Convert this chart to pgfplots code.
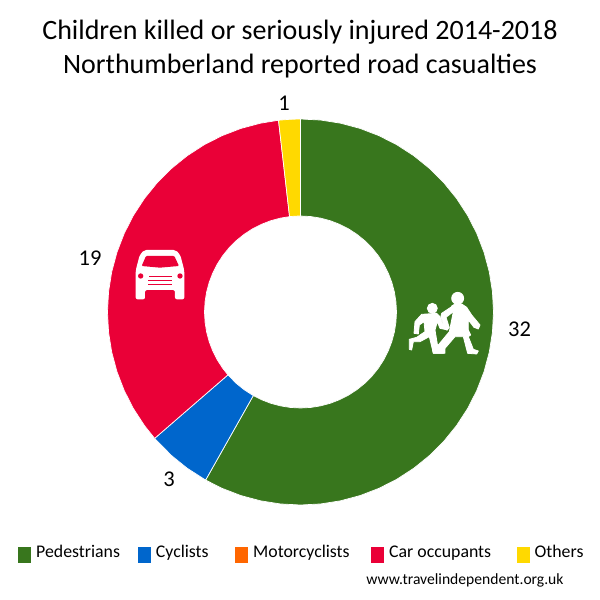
\documentclass[border=0pt]{standalone}
\usepackage{pgfplots}
\pgfplotsset{compat=1.18}
\usepackage{fontspec}
\setmainfont{Carlito}
\definecolor{cPed}{HTML}{38761D}
\definecolor{cCyc}{HTML}{0066CC}
\definecolor{cMot}{HTML}{FF6600}
\definecolor{cCar}{HTML}{EA0037}
\definecolor{cOth}{HTML}{FFD900}
\begin{document}
\begin{tikzpicture}[x=1pt,y=1pt]
\path[use as bounding box] (0,0) rectangle (600pt,600pt);
\begin{axis}[
  at={(0,0)},anchor=south west,
  scale only axis,width=600pt,height=600pt,
  xmin=-300.5,xmax=299.5,ymin=-288,ymax=312,
  hide axis,clip=false,
  legend columns=5,
  area legend,
  legend image code/.code={\fill[#1,draw=none] (0pt,-5pt) rectangle (13pt,11pt);},
  legend style={at={(axis cs:-282.5,-246)},anchor=base west,draw=none,fill=none,inner sep=0pt,
    font=\fontsize{17.8}{17.8}\selectfont,
    /tikz/column 1/.style={column sep=5pt},
    /tikz/column 3/.style={column sep=5pt},
    /tikz/column 5/.style={column sep=5pt},
    /tikz/column 7/.style={column sep=5pt},
    /tikz/column 9/.style={column sep=5pt},
    /tikz/column 2/.style={column sep=18pt},
    /tikz/column 4/.style={column sep=26.5pt},
    /tikz/column 6/.style={column sep=21.5pt},
    /tikz/column 8/.style={column sep=25.5pt},
    nodes={inner sep=0pt,anchor=base west},
    cells={anchor=west}},
]
% Values 32, 3, 0, 19, 1 of 55: wedges as (angle, radius)
\addplot[data cs=polar,fill=cPed,draw=white,line width=0.7pt] coordinates {
 (90,193)(84,193)(78,193)(72,193)(66,193)(60,193)(54,193)(48,193)(42,193)(36,193)(30,193)(24,193)(18,193)(12,193)(6,193)(0,193)(-6,193)(-12,193)(-18,193)(-24,193)(-30,193)(-36,193)(-42,193)(-48,193)(-54,193)(-60,193)(-66,193)(-72,193)(-78,193)(-84,193)(-90,193)(-96,193)(-102,193)(-108,193)(-114,193)(-119.45,193)
 (-119.45,96)(-114,96)(-108,96)(-102,96)(-96,96)(-90,96)(-84,96)(-78,96)(-72,96)(-66,96)(-60,96)(-54,96)(-48,96)(-42,96)(-36,96)(-30,96)(-24,96)(-18,96)(-12,96)(-6,96)(0,96)(6,96)(12,96)(18,96)(24,96)(30,96)(36,96)(42,96)(48,96)(54,96)(60,96)(66,96)(72,96)(78,96)(84,96)(90,96)(90,193)};
\addlegendentry{Pedestrians}
\addplot[data cs=polar,fill=cCyc,draw=white,line width=0.7pt] coordinates {
 (-119.45,193)(-126,193)(-132,193)(-139.09,193)(-139.09,96)(-132,96)(-126,96)(-119.45,96)(-119.45,193)};
\addlegendentry{Cyclists}
\addplot[data cs=polar,fill=cMot,draw=none] coordinates {(-139.09,96)(-139.09,193)};
\addlegendentry{Motorcyclists}
\addplot[data cs=polar,fill=cCar,draw=white,line width=0.7pt] coordinates {
 (-139.09,193)(-144,193)(-150,193)(-156,193)(-162,193)(-168,193)(-174,193)(-180,193)(-186,193)(-192,193)(-198,193)(-204,193)(-210,193)(-216,193)(-222,193)(-228,193)(-234,193)(-240,193)(-246,193)(-252,193)(-258,193)(-263.45,193)
 (-263.45,96)(-258,96)(-252,96)(-246,96)(-240,96)(-234,96)(-228,96)(-222,96)(-216,96)(-210,96)(-204,96)(-198,96)(-192,96)(-186,96)(-180,96)(-174,96)(-168,96)(-162,96)(-156,96)(-150,96)(-144,96)(-139.09,96)(-139.09,193)};
\addlegendentry{Car occupants}
\addplot[data cs=polar,fill=cOth,draw=white,line width=0.7pt] coordinates {
 (-263.45,193)(-266.7,193)(-270,193)(-270,96)(-266.7,96)(-263.45,96)(-263.45,193)};
\addlegendentry{Others}
\end{axis}
% pixel-coordinate overlays (y down from top)
\begin{scope}[yshift=600pt,x=1pt,y=-1pt]
\node[font=\fontsize{28}{28}\selectfont,anchor=center] at (300,32) {Children killed or seriously injured 2014-2018};
\node[font=\fontsize{28}{28}\selectfont,anchor=center] at (300,66) {Northumberland reported road casualties};
\foreach \t/\xx/\yy in {32/519.5/329,3/169/479,19/90/258,1/284/103}
  \node[font=\fontsize{22.5}{22.5}\selectfont,anchor=center] at (\xx,\yy) {\t};
\node[font=\fontsize{15.6}{15.6}\selectfont,anchor=center] at (465,580) {www.travelindependent.org.uk};
\end{scope}
% car icon, zoom units
\begin{scope}[xshift=125pt,yshift=360pt,x=0.3333pt,y=-0.3333pt]
\fill[white,rounded corners=2pt] (58,30)--(152,30)--(166,45)--(178,92)--(178,178)--(150,178)--(150,150)--(60,150)--(60,178)--(32,178)--(32,92)--(44,45)--cycle;
\fill[cCar,rounded corners=1pt] (50,78)--(63,48)--(148,48)--(162,78)--(105,83)--cycle;
\fill[cCar] (47,108) circle (8);
\fill[cCar] (165,108) circle (8);
\fill[cCar] (72,107) rectangle (140,110);
\fill[cCar] (68,121) rectangle (142,124);
\fill[cCar] (68,133) rectangle (142,136);
\end{scope}
% children icon, zoom units
\begin{scope}[xshift=400pt,yshift=320pt,x=0.3333pt,y=-0.3333pt]
\filldraw[white,line width=0.8pt,line join=round] (173,55) circle (18);
\filldraw[white,line width=0.8pt,line join=round] (155,78)--(165,72)--(185,72)--(200,82)--(215,105)--(240,135)--(235,147)--(222,142)--(205,120)--(205,150)--(212,165)--(205,170)--(220,208)--(235,213)--(230,222)--(203,220)--(190,170)--(165,170)--(135,205)--(135,220)--(100,220)--(98,210)--(115,195)--(148,155)--(160,95)--cycle;
\filldraw[white,line width=0.8pt,line join=round] (158,78)--(125,100)--(122,112)--(140,150)--(148,143)--(138,112)--(160,95)--cycle;
\filldraw[white,line width=0.8pt,line join=round] (97,85) circle (15);
\filldraw[white,line width=0.8pt,line join=round] (65,103)--(110,100)--(118,108)--(128,130)--(145,140)--(143,150)--(120,145)--(112,125)--(105,150)--(115,210)--(132,218)--(130,220)--(100,220)--(88,170)--(60,185)--(40,185)--(35,210)--(28,208)--(28,178)--(50,172)--(75,155)--(72,125)--(58,135)--(55,162)--(42,160)--(45,125)--cycle;
\end{scope}
\end{tikzpicture}
\end{document}
